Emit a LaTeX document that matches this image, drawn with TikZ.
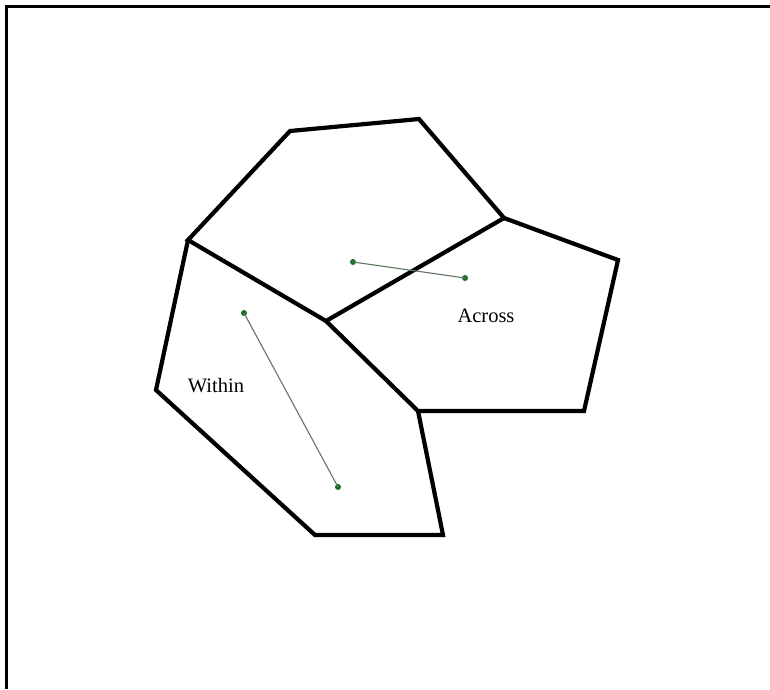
\documentclass[tikz,border=0pt]{standalone}
\usepackage{fontspec}
\setmainfont{Liberation Serif}
\definecolor{dotgreen}{RGB}{30,110,40}
\definecolor{segcol}{RGB}{95,120,95}
\tikzset{
  edge/.style={line width=4.2pt, line join=miter, line cap=round},
  gdot/.style={circle, fill=dotgreen, inner sep=0pt, minimum size=6pt},
  seg/.style={segcol, line width=1.1pt},
  lbl/.style={font=\fontsize{20.5}{24}\selectfont, inner sep=0pt}
}
\begin{document}
\begin{tikzpicture}[x=1pt,y=-1pt]
\useasboundingbox (0,0) rectangle (770,689);
\fill[white] (0,0) rectangle (770,689);
% frame (top and left only)
\draw[line width=3pt] (6,689) -- (6,6) -- (770,6);
% vertices
\coordinate (A) at (188,240);
\coordinate (B) at (290,131);
\coordinate (C) at (419,119);
\coordinate (D) at (504,218);
\coordinate (E) at (326,321);
\coordinate (F) at (618,260);
\coordinate (G) at (584,411);
\coordinate (H) at (418,411);
\coordinate (I) at (443,535);
\coordinate (J) at (315,535);
\coordinate (K) at (156,390);
% cells
\draw[edge] (A) -- (B) -- (C) -- (D) -- (E) -- cycle;
\draw[edge] (D) -- (F) -- (G) -- (H) -- (E);
\draw[edge] (A) -- (K) -- (J) -- (I) -- (H);
% segments
\node[gdot] (p1) at (353,262) {};
\node[gdot] (p2) at (465,278) {};
\node[gdot] (q1) at (244,313) {};
\node[gdot] (q2) at (338,487) {};
\draw[seg] (p1.center) -- (p2.center);
\draw[seg] (q1.center) -- (q2.center);
% labels
\node[lbl] (across) at (486,316) {Across};
\node[lbl] (within) at (216,386) {Within};
\end{tikzpicture}
\end{document}
